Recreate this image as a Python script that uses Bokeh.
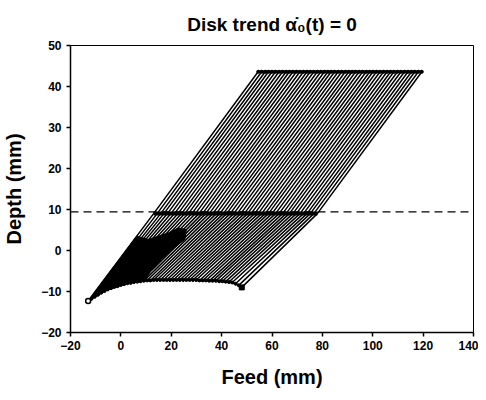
from bokeh.plotting import figure
from bokeh.models import Range1d, FixedTicker, Span
from bokeh.embed import file_html
from bokeh.resources import INLINE

# ---- data ----
feed_ticks = [-20, 0, 20, 40, 60, 80, 100, 120, 140]
depth_ticks = [-20, -10, 0, 10, 20, 30, 40, 50]

# bottom end of every trace (lower boundary curve)
feed_bottom = [-13.0, -11.7, -10.4, -9.1, -7.8, -6.5, -5.2, -3.9, -2.6, -1.3,
               0.0, 1.3, 2.6, 3.9, 5.2, 6.5, 7.8, 9.1, 10.4, 11.7,
               13.0, 14.3, 15.6, 16.9, 18.2, 19.5, 20.8, 22.1, 23.4, 24.7,
               26.0, 27.3, 28.6, 29.9, 31.2, 32.5, 33.8, 35.1, 36.4, 37.7,
               39.0, 40.3, 41.6, 42.9, 44.2, 45.5, 46.8, 48.0]
depth_bottom = [-12.3, -11.8, -11.3, -10.8, -10.3, -9.9, -9.5, -9.2, -8.9, -8.7,
                -8.4, -8.2, -8.0, -7.9, -7.7, -7.6, -7.5, -7.4, -7.3, -7.3,
                -7.2, -7.2, -7.2, -7.2, -7.2, -7.2, -7.2, -7.2, -7.2, -7.2,
                -7.2, -7.2, -7.2, -7.2, -7.3, -7.3, -7.3, -7.4, -7.4, -7.4,
                -7.5, -7.5, -7.6, -7.7, -7.8, -8.1, -8.5, -9.0]
# crossing of every trace with the band
feed_band = [13.0, 14.4, 15.8, 17.1, 18.5, 19.9, 21.3, 22.7, 24.1, 25.4,
             26.8, 28.2, 29.6, 31.0, 32.4, 33.7, 35.1, 36.5, 37.9, 39.3,
             40.7, 42.0, 43.4, 44.8, 46.2, 47.6, 49.0, 50.3, 51.7, 53.1,
             54.5, 55.9, 57.3, 58.6, 60.0, 61.4, 62.8, 64.2, 65.6, 66.9,
             68.3, 69.7, 71.1, 72.5, 73.9, 75.2, 76.6, 78.0]
depth_band = 9.0
# top end of every trace
feed_top = [54.5, 55.9, 57.3, 58.6, 60.0, 61.4, 62.8, 64.2, 65.6, 66.9,
            68.3, 69.7, 71.1, 72.5, 73.9, 75.2, 76.6, 78.0, 79.4, 80.8,
            82.2, 83.5, 84.9, 86.3, 87.7, 89.1, 90.5, 91.8, 93.2, 94.6,
            96.0, 97.4, 98.8, 100.1, 101.5, 102.9, 104.3, 105.7, 107.1, 108.4,
            109.8, 111.2, 112.6, 114.0, 115.4, 116.7, 118.1, 119.5]
depth_top = 43.6
# dense (overlapping) zone near the start
core_feed = [-13.0, 6.3, 10.9, 18.9, 22.8, 26.0, 25.4, 20.2, 16.2, 12.3, 9.6, 4.0, -4.7, -9.0]
core_depth = [-12.3, 3.5, 2.7, 4.3, 5.5, 5.1, 2.7, 0.2, -2.2, -4.6, -7.1, -7.8, -9.4, -10.7]
# dashed reference level
dash_depth = 9.4

FONT = "Liberation Sans"

p = figure(width=478, height=392, output_backend="svg", toolbar_location=None,
           x_range=Range1d(-20, 140), y_range=Range1d(-20, 50),
           min_border_left=70, min_border_right=5, min_border_top=45, min_border_bottom=60,
           title="Disk trend \u03b1\u0307\u2080(t) = 0")
p.title.text_font = FONT
p.title.text_font_size = "19px"
p.title.text_font_style = "bold"
p.title.align = "center"
p.title.text_color = "black"
p.title.standoff = 22

p.xgrid.visible = False
p.ygrid.visible = False
p.outline_line_color = "black"
p.outline_line_width = 1
p.background_fill_color = "white"
p.border_fill_color = "white"

p.xaxis.ticker = FixedTicker(ticks=feed_ticks)
p.yaxis.ticker = FixedTicker(ticks=depth_ticks)
p.xaxis.axis_label = "Feed (mm)"
p.yaxis.axis_label = "Depth (mm)"
for ax in (p.xaxis, p.yaxis):
    ax.axis_label_text_font = FONT
    ax.axis_label_text_font_size = "20px"
    ax.axis_label_text_font_style = "bold"
    ax.axis_label_text_color = "black"
    ax.major_label_text_font = FONT
    ax.major_label_text_font_size = "12px"
    ax.major_label_text_font_style = "bold"
    ax.major_label_text_color = "black"
    ax.minor_tick_line_color = None
    ax.major_tick_in = 0
    ax.major_tick_out = 4
    ax.major_tick_line_color = "black"
    ax.major_tick_line_width = 1.5
    ax.axis_line_color = "black"
    ax.axis_line_width = 1.5
p.xaxis.major_label_standoff = 4
p.xaxis.axis_label_standoff = 13
p.yaxis.major_label_standoff = 5
p.yaxis.axis_label_standoff = 13

# dashed level line
p.add_layout(Span(location=dash_depth, dimension="width", line_color="black",
                  line_width=1.3, line_dash="8 5"))

# dense zone
p.patch(core_feed, core_depth, fill_color="black", line_color="black", line_width=1)

# traces
xs = [[b, m, t] for b, m, t in zip(feed_bottom, feed_band, feed_top)]
ys = [[d, depth_band, depth_top] for d in depth_bottom]
p.multi_line(xs, ys, line_color="black", line_width=1.5)

# band, top edge, bottom edge
p.line(feed_band, [depth_band] * len(feed_band), line_color="black", line_width=4)
p.line(feed_top, [depth_top] * len(feed_top), line_color="black", line_width=3)
p.scatter(feed_top, [depth_top] * len(feed_top), size=3, color="black")
p.line(feed_bottom, depth_bottom, line_color="black", line_width=2)
p.scatter(feed_bottom[1:-1], depth_bottom[1:-1], size=3, color="black")
p.scatter([feed_bottom[0]], [depth_bottom[0]], size=5, marker="circle",
          fill_color="white", line_color="black", line_width=1.5)
p.scatter([feed_bottom[-1]], [depth_bottom[-1]], size=5, marker="square", color="black")

open("out.html", "w").write(file_html(p, INLINE))
